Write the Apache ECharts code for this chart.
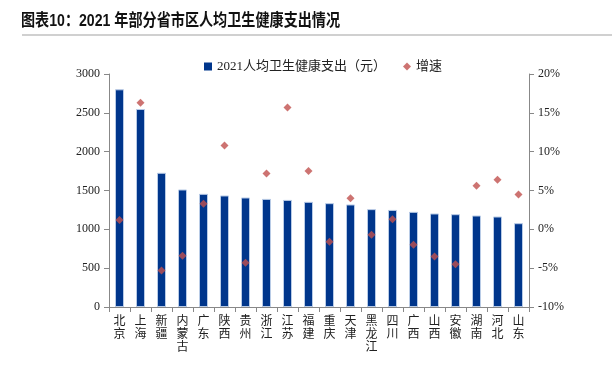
<!DOCTYPE html>
<html><head><meta charset="utf-8">
<script src="https://cdn.jsdelivr.net/npm/echarts@6/dist/echarts.min.js"></script>
<style>html,body{margin:0;padding:0;background:#fff}#c{width:612px;height:365px}</style>
</head><body><div id="c"></div>
<script>
const categories = ['北京','上海','新疆','内蒙古','广东','陕西','贵州','浙江','江苏','福建','重庆','天津','黑龙江','四川','广西','山西','安徽','湖南','河北','山东'];
const spending = [2803,2549,1728,1513,1457,1436,1410,1392,1379,1354,1337,1320,1260,1250,1225,1204,1195,1178,1165,1079];
const growth = [1.2,16.3,-5.3,-3.4,3.3,10.8,-4.3,7.2,15.7,7.5,-1.6,4.0,-0.7,1.3,-2.0,-3.5,-4.5,5.6,6.4,4.5];
const leftTicks = {min:0,max:3000,interval:500};
const rightTicks = {min:-10,max:20,interval:5};
const seriesNames = ['2021人均卫生健康支出（元）','增速'];
const titleText = '图表10：2021 年部分省市区人均卫生健康支出情况';

const serif = '"Liberation Serif","Noto Sans CJK SC",serif';
const chart = echarts.init(document.getElementById('c'));
chart.setOption({
  animation:false,
  graphic:[
    {type:'text',left:21,top:13,scaleX:0.83,style:{text:titleText,fontFamily:'"Liberation Sans","Noto Sans CJK SC",sans-serif',fontWeight:'bold',fontSize:17,fill:'#111'}},
    {type:'rect',shape:{x:22,y:34,width:590,height:2},style:{fill:'#d0d0d0'}}
  ],
  legend:{top:55,left:199,itemGap:17,itemWidth:8,itemHeight:8,textStyle:{fontFamily:serif,fontSize:13,color:'#222'},
    itemStyle:{borderWidth:0},
    data:[{name:seriesNames[0],icon:'rect'},{name:seriesNames[1],icon:'diamond'}]},
  grid:{left:109,right:83,top:74,bottom:58},
  xAxis:{type:'category',data:categories,
    axisLine:{lineStyle:{color:'#888'}},
    axisTick:{show:true,alignWithLabel:false,length:5,lineStyle:{color:'#888'}},
    axisLabel:{interval:0,fontFamily:serif,fontSize:12,color:'#222',lineHeight:13,margin:8,
      formatter:v=>v.split('').join('\n')}},
  yAxis:[
    {type:'value',min:leftTicks.min,max:leftTicks.max,interval:leftTicks.interval,
      axisLine:{show:true,lineStyle:{color:'#888'}},axisTick:{show:true,length:5,lineStyle:{color:'#888'}},
      splitLine:{show:false},axisLabel:{fontFamily:serif,fontSize:12,color:'#222',margin:9,formatter:v=>String(v)}},
    {type:'value',min:rightTicks.min,max:rightTicks.max,interval:rightTicks.interval,position:'right',
      axisLine:{show:true,lineStyle:{color:'#888'}},axisTick:{show:true,length:5,lineStyle:{color:'#888'}},
      splitLine:{show:false},axisLabel:{fontFamily:serif,fontSize:12,color:'#222',margin:9,formatter:v=>v+'%'}}
  ],
  series:[
    {name:seriesNames[0],type:'bar',data:spending,barWidth:9,yAxisIndex:0,
      itemStyle:{color:'#00368C',borderColor:'#b8cbe6',borderWidth:1}},
    {name:seriesNames[1],type:'scatter',data:growth,yAxisIndex:1,symbol:'diamond',symbolSize:8,
      itemStyle:{color:'#C0504D'}}
  ]
});
</script></body></html>
